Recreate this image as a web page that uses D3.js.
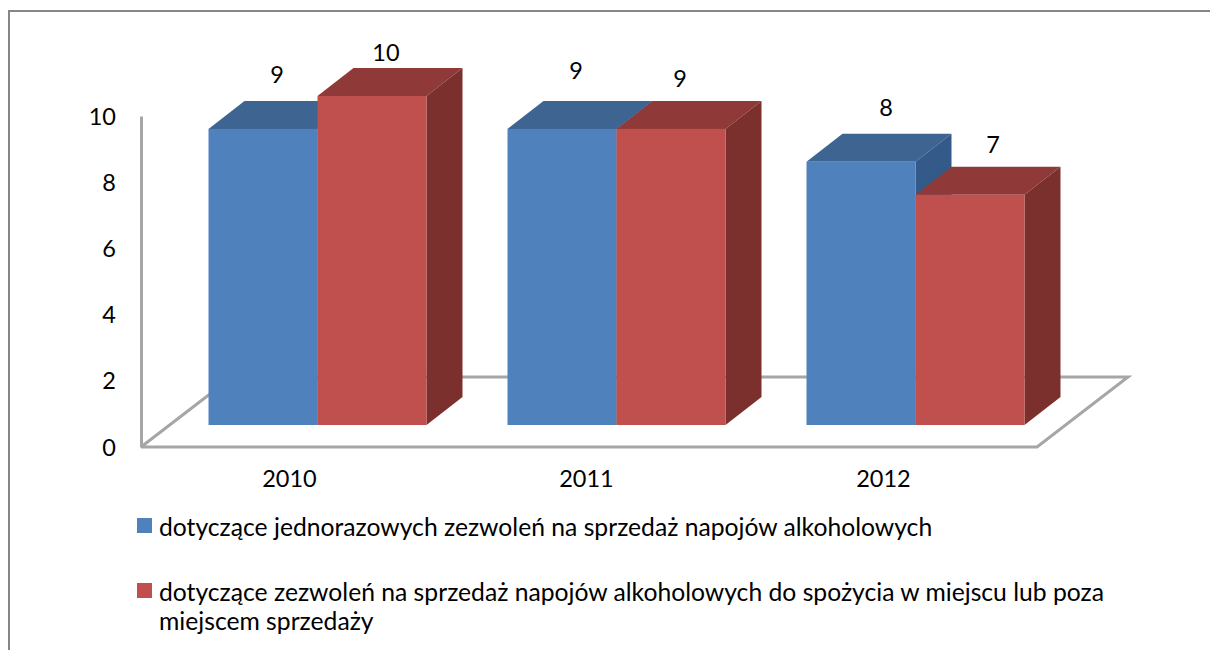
<!DOCTYPE html>
<html>
<head>
<meta charset="utf-8">
<script src="https://cdn.jsdelivr.net/npm/d3@7"></script>
<style>
  body { margin: 0; background: #fff; }
  text { font-family: Lato, "Noto Sans", sans-serif; fill: #000; }
</style>
</head>
<body>
<svg id="chart" width="1210" height="650"></svg>
<script>
const years = ['2010', '2011', '2012']
const seriesNames = ['jednorazowe', 'sprzedaz']
const jednorazowe = [9, 9, 8]
const sprzedaz = [10, 9, 7]
const yTicks = [0, 2, 4, 6, 8, 10]
const legendLabels = [
  ['dotyczące jednorazowych zezwoleń na sprzedaż napojów alkoholowych'],
  ['dotyczące zezwoleń na sprzedaż napojów alkoholowych do spożycia w miejscu lub poza', 'miejscem sprzedaży']
]

const Colors = {
  jednorazowe: { front: '#4f81bd', top: '#3e6491', side: '#335a88' },
  sprzedaz: { front: '#c0504d', top: '#8f3a38', side: '#7c302e' }
}

const svg = d3.select('#chart')
const fontSize = 23.5
const legendFontSize = 24.7

// frame runs off the right and bottom of the picture
svg.append('rect')
  .attr('x', 9).attr('y', 11)
  .attr('width', 1300).attr('height', 800)
  .attr('fill', 'none').attr('stroke', '#868686').attr('stroke-width', 2)

const yAxisScale = d3.scaleLinear().domain([0, 10]).range([447, 116])
const yBarScale = d3.scaleLinear().domain([0, 10]).range([425, 96])
const xLabels = d3.scaleBand().domain(years).range([141, 1032])
const xGroups = d3.scaleBand().domain(years).range([168, 1065])
const xBars = d3.scaleBand().domain(seriesNames).range([0, 218])

const floorDepth = { x: 91, y: -70 }
const barDepth = { x: 36, y: -28 }
const floorLeft = 141
const floorRight = 1037
const floorY = yAxisScale(0)

// floor of the 3d box
svg.append('path')
  .attr('d', d3.line()([
    [floorLeft, floorY],
    [floorLeft + floorDepth.x, floorY + floorDepth.y],
    [floorRight + floorDepth.x, floorY + floorDepth.y],
    [floorRight, floorY],
    [floorLeft, floorY]
  ]))
  .attr('fill', 'none').attr('stroke', '#a6a6a6').attr('stroke-width', 3)

const yAxis = svg.append('g')
  .attr('transform', `translate(${floorLeft},0)`)
  .call(d3.axisLeft(yAxisScale).tickValues(yTicks).tickSize(0).tickPadding(25))
yAxis.select('.domain').attr('stroke', '#a6a6a6').attr('stroke-width', 3)
yAxis.selectAll('text').attr('font-size', fontSize).attr('font-family', null)
  .attr('dy', '0.34em')

const xAxis = svg.append('g')
  .attr('transform', `translate(0,${floorY})`)
  .call(d3.axisBottom(xLabels).tickSize(0).tickPadding(23))
xAxis.select('.domain').remove()
xAxis.selectAll('text').attr('font-size', fontSize).attr('font-family', null)

const bars = years.flatMap((year, i) => [
  { year, series: 'jednorazowe', value: jednorazowe[i] },
  { year, series: 'sprzedaz', value: sprzedaz[i] }
])

const barG = svg.selectAll('.bar').data(bars).enter().append('g').attr('class', 'bar')
const groupStart = d => xGroups(d.year) + (xGroups.bandwidth() - xBars.range()[1]) / 2
const x0 = d => groupStart(d) + xBars(d.series)
const x1 = d => x0(d) + xBars.bandwidth()
const base = yBarScale(0)

barG.append('path')
  .attr('fill', d => Colors[d.series].top)
  .attr('d', d => {
    const t = yBarScale(d.value)
    return d3.line()([
      [x0(d), t], [x0(d) + barDepth.x, t + barDepth.y],
      [x1(d) + barDepth.x, t + barDepth.y], [x1(d), t]
    ]) + 'Z'
  })

barG.append('path')
  .attr('fill', d => Colors[d.series].side)
  .attr('d', d => {
    const t = yBarScale(d.value)
    return d3.line()([
      [x1(d), t], [x1(d) + barDepth.x, t + barDepth.y],
      [x1(d) + barDepth.x, base + barDepth.y], [x1(d), base]
    ]) + 'Z'
  })

barG.append('rect')
  .attr('x', x0)
  .attr('y', d => yBarScale(d.value))
  .attr('width', xBars.bandwidth())
  .attr('height', d => base - yBarScale(d.value))
  .attr('fill', d => Colors[d.series].front)

// labels sit unevenly in the original, so each gets its own nudge
const labelNudge = [[14, -46], [14, -35], [14, -50], [9, -42], [25, -46], [23, -42]]

svg.selectAll('.value').data(bars).enter().append('text')
  .attr('class', 'value')
  .attr('x', (d, i) => x0(d) + xBars.bandwidth() / 2 + labelNudge[i][0])
  .attr('y', (d, i) => yBarScale(d.value) + labelNudge[i][1])
  .attr('text-anchor', 'middle')
  .attr('font-size', fontSize)
  .text(d => d.value)

const legendTop = [518, 583]
const legend = svg.selectAll('.legend').data(legendLabels).enter().append('g').attr('class', 'legend')

legend.append('rect')
  .attr('x', 137)
  .attr('y', (_, i) => legendTop[i])
  .attr('width', 15).attr('height', 15)
  .attr('fill', (_, i) => Colors[seriesNames[i]].front)

legend.append('text')
  .attr('font-size', legendFontSize)
  .selectAll('tspan')
  .data((lines, i) => lines.map((line, j) => ({ line, i, j })))
  .enter().append('tspan')
  .attr('x', 159)
  .attr('y', d => legendTop[d.i] + 18 + d.j * 29)
  .text(d => d.line)
</script>
</body>
</html>
